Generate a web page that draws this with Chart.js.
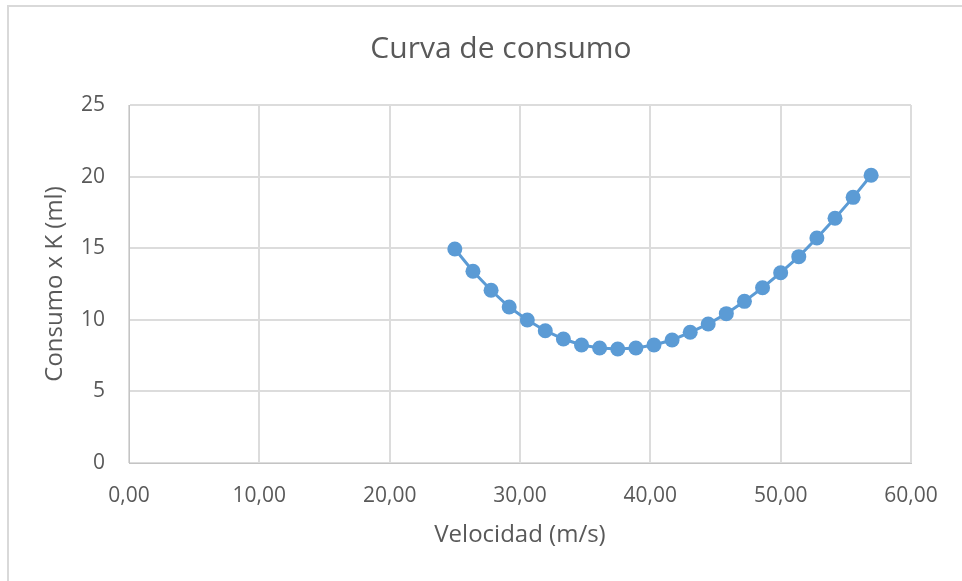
<!DOCTYPE html>
<html>
<head>
<meta charset="utf-8">
<script src="https://cdn.jsdelivr.net/npm/chart.js@4"></script>
<style>
  html, body { margin: 0; padding: 0; background: #fff; overflow: hidden; }
  #wrap { position: relative; width: 962px; height: 581px; overflow: hidden; }
  #frame { position: absolute; left: 7px; top: 5px; width: 1000px; height: 600px;
           border-left: 2px solid #d9d9d9; border-top: 2px solid #d9d9d9; pointer-events: none; }
  canvas { position: absolute; left: 0; top: 0; }
</style>
</head>
<body>
<div id="wrap">
  <canvas id="consumoChart" width="1004" height="581"></canvas>
  <div id="frame"></div>
</div>
<script>
// velocidad (m/s) y consumo
const velocidad = [25.00, 26.39, 27.78, 29.17, 30.56, 31.94, 33.33, 34.72, 36.11, 37.50, 38.89, 40.28,
                   41.67, 43.06, 44.44, 45.83, 47.22, 48.61, 50.00, 51.39, 52.78, 54.17, 55.56, 56.94];
const consumo = [14.94, 13.39, 12.06, 10.89, 9.99, 9.24, 8.66, 8.24, 8.03, 7.96, 8.03, 8.24,
                 8.59, 9.13, 9.71, 10.43, 11.29, 12.24, 13.29, 14.41, 15.71, 17.09, 18.55, 20.09];
const xTicks = [0, 10, 20, 30, 40, 50, 60];
const yTicks = [0, 5, 10, 15, 20, 25];
const chartTitle = "Curva de consumo";

const grey = "#595959";
const blue = "#5b9bd5";

const points = velocidad.map((v, i) => ({ x: v, y: consumo[i] }));

// title drawn by hand so it can sit centred on the whole frame, not the plot
const titlePlugin = {
  id: "frameTitle",
  afterDraw(chart) {
    const c = chart.ctx;
    c.save();
    c.fillStyle = grey;
    c.font = "30px 'Open Sans'";
    c.textAlign = "center";
    c.textBaseline = "middle";
    c.fillText(chartTitle, 501, 49);
    c.restore();
  }
};

const ctx = document.getElementById("consumoChart").getContext("2d");
new Chart(ctx, {
  type: "scatter",
  data: {
    datasets: [{
      label: "Consumo",
      data: points,
      showLine: true,
      borderColor: blue,
      backgroundColor: blue,
      borderWidth: 3,
      pointRadius: 7.5,
      pointBorderWidth: 0,
      pointBackgroundColor: blue,
      tension: 0
    }]
  },
  options: {
    responsive: false,
    animation: false,
    layout: { padding: { left: 0, right: 93, top: 105, bottom: 0 } },
    plugins: {
      legend: { display: false },
      tooltip: { enabled: false },
      title: { display: false }
    },
    scales: {
      x: {
        type: "linear",
        min: xTicks[0],
        max: xTicks[xTicks.length - 1],
        afterBuildTicks: s => { s.ticks = xTicks.map(v => ({ value: v })); },
        afterFit: s => { s.height = 118; },
        grid: { color: "#dcdcdc", lineWidth: 2, drawTicks: false },
        border: { color: "#c4c4c4", width: 1 },
        ticks: {
          color: grey,
          padding: 20,
          font: { family: "Open Sans", size: 21 },
          callback: v => v.toFixed(2).replace(".", ",")
        },
        title: {
          display: true,
          text: "Velocidad (m/s)",
          color: grey,
          font: { family: "Open Sans", size: 24 },
          padding: { top: 0, bottom: 31 }
        }
      },
      y: {
        min: yTicks[0],
        max: yTicks[yTicks.length - 1],
        afterBuildTicks: s => { s.ticks = yTicks.map(v => ({ value: v })); },
        afterFit: s => { s.width = 129; },
        grid: { color: "#dcdcdc", lineWidth: 2, drawTicks: false },
        border: { color: "#c4c4c4", width: 1 },
        ticks: {
          color: grey,
          padding: 24,
          font: { family: "Open Sans", size: 21 }
        },
        title: {
          display: true,
          text: "Consumo x K (ml)",
          color: grey,
          font: { family: "Open Sans", size: 24 },
          padding: { top: 41, bottom: 0 }
        }
      }
    }
  },
  plugins: [titlePlugin]
});
</script>
</body>
</html>
